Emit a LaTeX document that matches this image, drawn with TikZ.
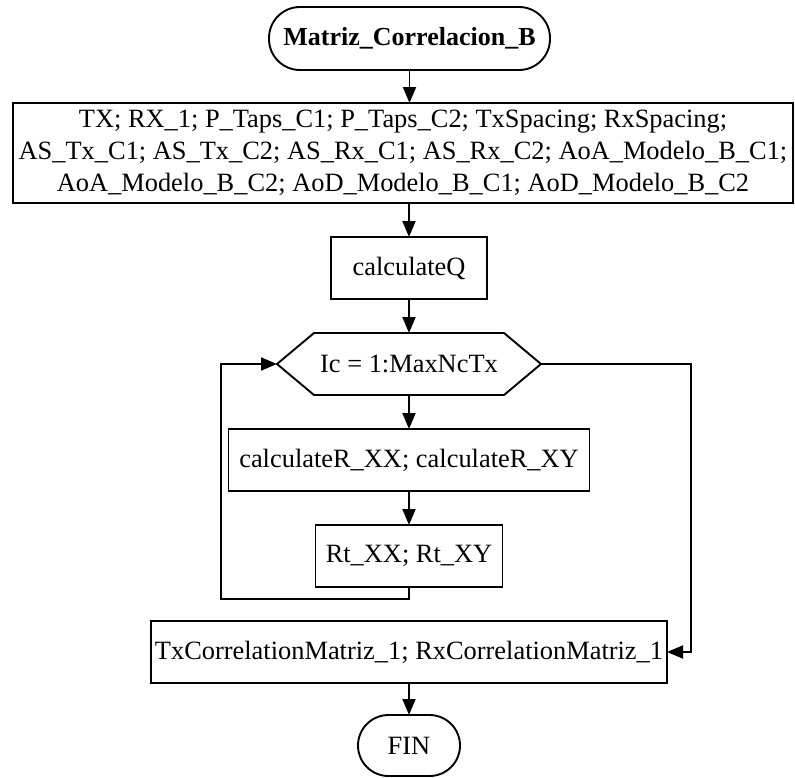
\documentclass[tikz,border=0pt]{standalone}
\usepackage{fontspec}
\setmainfont{Liberation Serif}
\usetikzlibrary{arrows.meta}
\begin{document}
\begin{tikzpicture}[x=1pt,y=-1pt,
  every node/.style={font=\fontsize{26.4}{30.4}\selectfont, inner sep=0pt, outer sep=0pt},
  proc/.style={draw, line width=1.9pt, minimum height=62pt, align=center},
  term/.style={draw, line width=1.9pt, rounded corners=31pt, minimum height=62pt},
  flow/.style={line width=1.9pt, -{Triangle[length=16pt,width=13pt]}},
  edge/.style={line width=1.9pt}
]
\useasboundingbox (0,0) rectangle (795,777);

% start terminator
\node[term, minimum width=281pt, minimum height=63pt,
      font=\fontsize{26}{30}\selectfont\bfseries] (start) at (409.5,38.5) {Matriz\_Correlacion\_B};

% input parameters
\node[proc, minimum width=780pt, minimum height=100pt,
      font=\fontsize{26.4}{32}\selectfont] (inputs) at (403,153)
  {TX; RX\_1; P\_Taps\_C1; P\_Taps\_C2; TxSpacing; RxSpacing;\\
   AS\_Tx\_C1; AS\_Tx\_C2; AS\_Rx\_C1; AS\_Rx\_C2; AoA\_Modelo\_B\_C1;\\
   AoA\_Modelo\_B\_C2; AoD\_Modelo\_B\_C1; AoD\_Modelo\_B\_C2};

\node[proc, minimum width=156pt] (calcq) at (409,268) {calculateQ};

% loop header (hexagon)
\node[minimum width=264pt, minimum height=62pt] (hex) at (409,364) {Ic = 1:MaxNcTx};
\draw[edge] (hex.west) -- ([xshift=37pt]hex.north west) -- ([xshift=-37pt]hex.north east)
  -- (hex.east) -- ([xshift=-37pt]hex.south east) -- ([xshift=37pt]hex.south west) -- cycle;

\node[proc, minimum width=361pt] (calcr) at (409,460) {calculateR\_XX; calculateR\_XY};
\node[proc, minimum width=187pt] (rt) at (409,556) {Rt\_XX; Rt\_XY};

\node[proc, minimum width=516pt] (out) at (409,652) {TxCorrelationMatriz\_1; RxCorrelationMatriz\_1};

\node[term, minimum width=102pt, minimum height=61pt, rounded corners=30.5pt] (fin) at (409,745.5) {FIN};

\coordinate (loopcorner) at (221,599);

% connectors
\draw[flow] (start.south) -- (start.south |- inputs.north);
\draw[flow] (calcq.north |- inputs.south) -- (calcq.north);
\draw[flow] (calcq.south) -- (hex.north);
\draw[flow] (hex.south) -- (calcr.north);
\draw[flow] (calcr.south) -- (rt.north);
\draw[flow] (rt.south) |- (loopcorner) |- (hex.west);
\draw[flow] (hex.east) -| ([xshift=24pt]out.east) -- (out.east);
\draw[flow] (out.south) -- (fin.north);
\end{tikzpicture}
\end{document}
